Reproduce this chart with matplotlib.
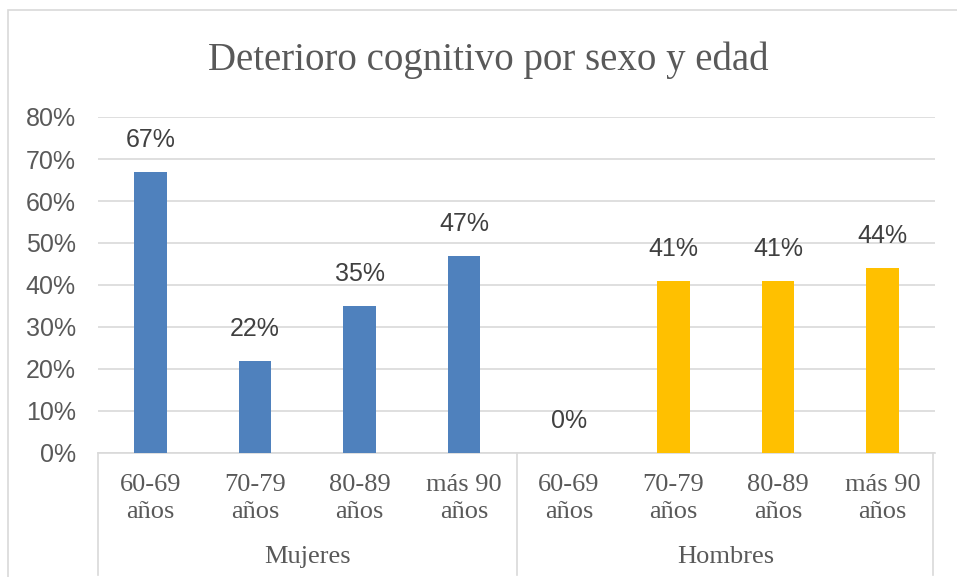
import matplotlib
matplotlib.use("Agg")
import matplotlib.pyplot as plt
from matplotlib.patches import Rectangle
import matplotlib.transforms as mtransforms

title = "Deterioro cognitivo por sexo y edad"
age_groups = ["60-69\naños", "70-79\naños", "80-89\naños", "más 90\naños"]
sexes = ["Mujeres", "Hombres"]
mujeres = [0.67, 0.22, 0.35, 0.47]
hombres = [0.00, 0.41, 0.41, 0.44]
yticks = [0, 0.1, 0.2, 0.3, 0.4, 0.5, 0.6, 0.7, 0.8]

W, H = 957, 577
fig = plt.figure(figsize=(W / 100, H / 100), dpi=100)
ax = fig.add_axes([98 / W, 124 / H, (935 - 98) / W, (453 - 117) / H])

text_col = "#595959"
grid_col = "#D9D9D9"
serif = ["Liberation Serif", "DejaVu Serif"]
sans = ["Liberation Sans", "DejaVu Sans"]

# chart border
fig.patches.append(Rectangle((8 / W, -0.1), 1.2, 1 - 10 / H + 0.1, transform=fig.transFigure,
                             fill=False, edgecolor=grid_col, linewidth=1.2))

xs_m = list(range(len(mujeres)))
xs_h = [len(mujeres) + i for i in range(len(hombres))]
bw = 0.31
ax.bar(xs_m, mujeres, width=bw, color="#4F81BD", zorder=3)
ax.bar(xs_h, hombres, width=bw, color="#FFC000", zorder=3)

for x, v in zip(xs_m + xs_h, mujeres + hombres):
    ax.annotate(f"{v * 100:.0f}%", (x, v), xytext=(0, 20), textcoords="offset pixels",
                ha="center", va="bottom", fontsize=18, color="#404040", family=sans)

ax.set_xlim(-0.5, 7.5)
ax.set_ylim(0, 0.8)
ax.set_yticks(yticks)
ax.set_yticklabels([f"{t * 100:.0f}%" for t in yticks], fontsize=18, color=text_col, family=sans)
ax.tick_params(axis="y", length=0, pad=16)
ax.set_xticks([])
ax.grid(axis="y", color=grid_col, linewidth=1.2, zorder=0)
for s in ["top", "right", "left"]:
    ax.spines[s].set_visible(False)
ax.spines["bottom"].set_color(grid_col)
ax.spines["bottom"].set_linewidth(1.2)

trans = mtransforms.blended_transform_factory(ax.transData, fig.transFigure)
labels = age_groups + age_groups
for x, lab in zip(xs_m + xs_h, labels):
    l1, l2 = lab.split("\n")
    ax.text(x, 1 - 485 / H, l1, transform=trans, ha="center", va="center",
            fontsize=19, color=text_col, family=serif)
    ax.text(x, 1 - 512 / H, l2, transform=trans, ha="center", va="center",
            fontsize=19, color=text_col, family=serif)
for centre, sx in zip([1.5, 5.5], sexes):
    ax.text(centre, 1 - 557 / H, sx, transform=trans, ha="center", va="center",
            fontsize=19, color=text_col, family=serif)
for xb in [-0.5, 3.5, 7.48]:
    ax.plot([xb, xb], [1 - 453 / H, 1 - 575 / H], transform=trans, color=grid_col,
            linewidth=1.2, clip_on=False)

fig.text(488 / W, 1 - 60 / H, title, ha="center", va="center", fontsize=28,
         color=text_col, family=serif)

fig.savefig("out.png", dpi=100)
